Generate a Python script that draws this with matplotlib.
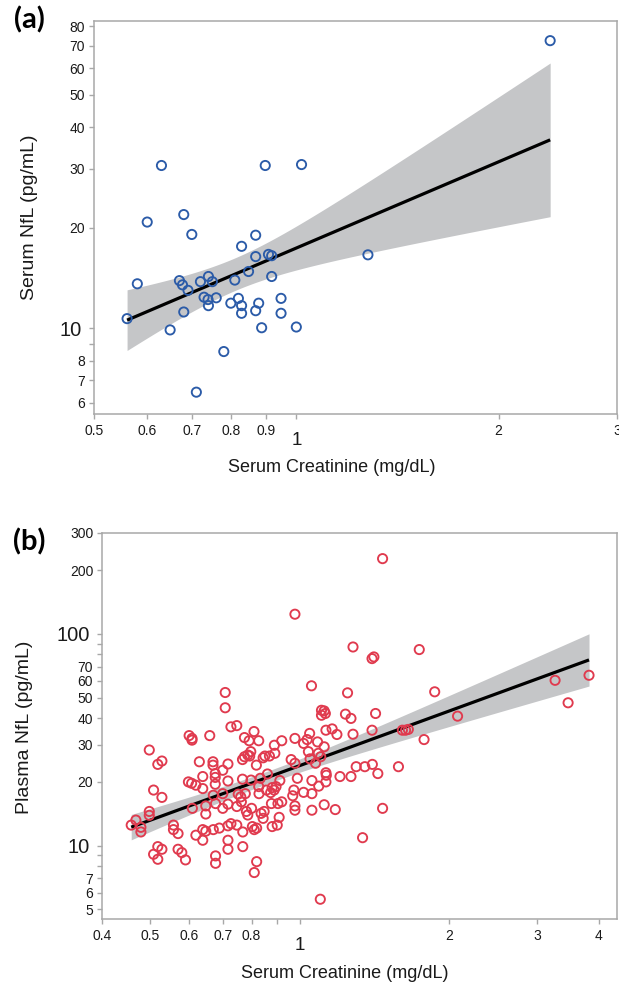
"""
Serum / plasma NfL versus serum creatinine, two stacked log-log panels
with an OLS fit (in log10 space) and its 95% confidence band.
"""

import matplotlib
matplotlib.use("Agg")
import matplotlib.pyplot as plt
from matplotlib.ticker import FixedLocator, FuncFormatter
import numpy as np

plt.rcParams["font.family"] = ["Liberation Sans", "DejaVu Sans"]

# ------------------------------------------------------------------
# Data
# ------------------------------------------------------------------

# (a) serum NfL cohort
a_creat = [
    0.560, 0.580, 0.600, 0.630, 0.649, 0.670, 0.677, 0.680, 0.680, 0.690,
    0.699, 0.710, 0.720, 0.729, 0.739, 0.740, 0.740, 0.750, 0.760, 0.780,
    0.799, 0.810, 0.820, 0.829, 0.829, 0.829, 0.849, 0.870, 0.870, 0.870,
    0.879, 0.888, 0.899, 0.909, 0.919, 0.919, 0.949, 0.949, 1.000, 1.018,
    1.278, 2.386,
]
a_nfl = [
    10.7, 13.6, 20.8, 30.7, 9.9, 13.9, 13.5, 21.9, 11.2, 13.0,
    19.1, 6.45, 13.8, 12.4, 12.2, 14.3, 11.7, 13.8, 12.35, 8.53,
    11.9, 13.95, 12.3, 17.6, 11.7, 11.1, 14.8, 19.0, 16.4, 11.3,
    11.9, 10.05, 30.7, 16.65, 16.5, 14.3, 12.3, 11.1, 10.1, 30.9,
    16.6, 72.5,
]

# (b) plasma NfL cohort
b_creat = [
    0.458, 0.468, 0.479, 0.479, 0.498, 0.498, 0.498, 0.508, 0.508, 0.518,
    0.518, 0.518, 0.528, 0.528, 0.528, 0.557, 0.557, 0.569, 0.569, 0.579,
    0.589, 0.597, 0.599, 0.606, 0.607, 0.607, 0.608, 0.618, 0.618, 0.628,
    0.638, 0.638, 0.638, 0.638, 0.647, 0.647, 0.647, 0.659, 0.669, 0.669,
    0.670, 0.670, 0.676, 0.676, 0.676, 0.677, 0.677, 0.677, 0.689, 0.700,
    0.700, 0.700, 0.708, 0.708, 0.717, 0.717, 0.717, 0.717, 0.717, 0.717,
    0.727, 0.727, 0.747, 0.747, 0.747, 0.752, 0.761, 0.763, 0.767, 0.767,
    0.768, 0.768, 0.774, 0.774, 0.777, 0.781, 0.786, 0.786, 0.791, 0.793,
    0.797, 0.798, 0.800, 0.803, 0.809, 0.810, 0.818, 0.819, 0.819, 0.810,
    0.827, 0.827, 0.828, 0.833, 0.836, 0.844, 0.844, 0.848, 0.851, 0.857,
    0.861, 0.869, 0.874, 0.877, 0.880, 0.880, 0.888, 0.889, 0.891, 0.896,
    0.901, 0.904, 0.909, 0.912, 0.920, 0.920, 0.961, 0.968, 0.973, 0.978,
    0.978, 0.978, 0.978, 0.978, 0.989, 1.018, 1.018, 1.035, 1.041, 1.047,
    1.049, 1.056, 1.058, 1.058, 1.058, 1.076, 1.086, 1.090, 1.092, 1.100,
    1.102, 1.106, 1.106, 1.120, 1.120, 1.120, 1.126, 1.129, 1.129, 1.129,
    1.131, 1.162, 1.188, 1.179, 1.205, 1.236, 1.248, 1.268, 1.268, 1.280,
    1.280, 1.299, 1.338, 1.352, 1.398, 1.398, 1.410, 1.400, 1.421, 1.436,
    1.468, 1.468, 1.580, 1.609, 1.633, 1.654, 1.740, 1.779, 1.869, 2.078,
    3.265, 3.468, 3.821,
]
b_nfl = [
    12.5, 13.2, 12.2, 11.6, 28.3, 14.5, 13.9, 18.3, 9.10, 24.2,
    9.89, 8.62, 25.1, 16.9, 9.61, 12.5, 11.9, 11.4, 9.61, 9.27,
    8.56, 20.0, 33.1, 19.7, 32.1, 31.5, 15.0, 19.3, 11.2, 24.9,
    21.2, 18.6, 11.9, 10.6, 15.4, 14.1, 11.7, 33.1, 24.9, 24.0,
    17.3, 11.9, 21.9, 21.0, 19.5, 15.8, 8.94, 8.25, 12.1, 22.7,
    17.6, 15.0, 52.9, 44.8, 24.3, 20.2, 15.7, 12.4, 10.6, 9.61,
    36.4, 12.7, 36.9, 12.5, 15.3, 17.5, 17.0, 16.1, 25.5, 20.6,
    11.6, 9.89, 32.4, 26.3, 17.6, 14.5, 26.8, 13.95, 31.3, 26.5,
    27.8, 20.4, 15.0, 12.3, 34.6, 11.9, 24.0, 12.1, 8.40, 7.46,
    31.3, 19.0, 17.6, 20.8, 14.2, 26.0, 13.45, 14.5, 26.5, 18.3,
    21.8, 26.5, 17.8, 15.8, 12.3, 18.8, 18.3, 29.8, 27.3, 19.0,
    12.5, 15.8, 13.6, 20.3, 31.3, 16.1, 25.5, 17.2, 18.3, 24.5,
    124.0, 32.1, 15.4, 14.7, 20.8, 30.4, 17.85, 31.7, 27.8, 33.9,
    25.7, 56.9, 20.3, 17.6, 14.7, 24.5, 30.9, 27.3, 19.1, 5.58,
    26.3, 43.6, 41.3, 29.3, 43.3, 15.6, 42.1, 35.1, 22.1, 20.0,
    21.5, 35.6, 33.5, 14.8, 21.2, 41.8, 52.7, 39.9, 21.2, 86.8,
    33.6, 23.6, 10.9, 23.6, 35.1, 76.5, 77.9, 24.2, 42.1, 21.9,
    227.0, 15.0, 23.6, 35.1, 35.1, 35.4, 84.4, 31.7, 53.3, 40.9,
    60.4, 47.3, 63.8,
]

# tick values and labels
a_xticks_minor = [0.5, 0.6, 0.7, 0.8, 0.9, 2, 3]
a_xlabels_minor = ["0.5", "0.6", "0.7", "0.8", "0.9", "2", "3"]
a_yticks_minor = [6, 7, 8, 9, 20, 30, 40, 50, 60, 70, 80]
a_ylabels_minor = ["6", "7", "8", "", "20", "30", "40", "50", "60", "70", "80"]

b_xticks_minor = [0.4, 0.5, 0.6, 0.7, 0.8, 0.9, 2, 3, 4]
b_xlabels_minor = ["0.4", "0.5", "0.6", "0.7", "0.8", "", "2", "3", "4"]
b_yticks_minor = [5, 6, 7, 8, 9, 20, 30, 40, 50, 60, 70, 80, 90, 200, 300]
b_ylabels_minor = ["5", "6", "7", "", "", "20", "30", "40", "50", "60", "70",
                   "", "", "200", "300"]

BLUE = "#2B5BA8"
RED = "#E03A4E"
BAND = "#C5C6C8"
SPINE = "#A8A8A8"
W, H = 619, 986


def fit_band(x, y, n_grid=120):
    """OLS fit of log10(y) on log10(x) with a 95% CI for the mean."""
    lx, ly = np.log10(x), np.log10(y)
    n = len(lx)
    slope, icpt = np.polyfit(lx, ly, 1)
    resid = ly - (icpt + slope * lx)
    s = np.sqrt(np.sum(resid ** 2) / (n - 2))
    sxx = np.sum((lx - lx.mean()) ** 2)
    t = 1.96 + 2.4 / (n - 2)  # close enough to the t quantile
    gx = np.linspace(lx.min(), lx.max(), n_grid)
    pred = icpt + slope * gx
    half = t * s * np.sqrt(1.0 / n + (gx - lx.mean()) ** 2 / sxx)
    return 10 ** gx, 10 ** pred, 10 ** (pred - half), 10 ** (pred + half)


def label_fmt(ticks, labels):
    lookup = {round(t, 4): l for t, l in zip(ticks, labels)}
    return FuncFormatter(lambda v, pos: lookup.get(round(v, 4), ""))


def draw_panel(ax, x, y, color, xlim, ylim, x_minor, x_minor_lab,
               y_major, y_minor, y_minor_lab):
    x = np.asarray(x, float)
    y = np.asarray(y, float)
    gx, pred, lo, hi = fit_band(x, y)

    ax.fill_between(gx, lo, hi, color=BAND, lw=0, zorder=1)
    ax.plot(gx, pred, color="black", lw=2.3, zorder=2, solid_capstyle="butt")
    ax.scatter(x, y, s=44, facecolors="none", edgecolors=color,
               linewidths=1.35, zorder=3)

    ax.set_xscale("log")
    ax.set_yscale("log")
    ax.set_xlim(*xlim)
    ax.set_ylim(*ylim)

    ax.xaxis.set_major_locator(FixedLocator([1]))
    ax.xaxis.set_major_formatter(FuncFormatter(lambda v, pos: "1"))
    ax.xaxis.set_minor_locator(FixedLocator(x_minor))
    ax.xaxis.set_minor_formatter(label_fmt(x_minor, x_minor_lab))

    ax.yaxis.set_major_locator(FixedLocator(y_major))
    ax.yaxis.set_major_formatter(FuncFormatter(lambda v, pos: f"{v:g}"))
    ax.yaxis.set_minor_locator(FixedLocator(y_minor))
    ax.yaxis.set_minor_formatter(label_fmt(y_minor, y_minor_lab))

    for spine in ax.spines.values():
        spine.set_color(SPINE)
        spine.set_linewidth(1.1)
    ax.tick_params(which="both", direction="out", length=3.8, width=1.0,
                   color=SPINE, labelcolor="#1a1a1a")
    ax.tick_params(axis="x", which="minor", labelsize=10, pad=3.5)
    ax.tick_params(axis="x", which="major", labelsize=13.5, pad=9.5)
    ax.tick_params(axis="y", which="minor", labelsize=10, pad=2.5)
    ax.tick_params(axis="y", which="major", labelsize=14.5, pad=5)


fig = plt.figure(figsize=(W / 100, H / 100), dpi=100)

# axes boxes in pixels: left, top, right, bottom
ax_a = fig.add_axes([94 / W, 1 - 414 / H, (617 - 94) / W, (414 - 21) / H])
ax_b = fig.add_axes([102 / W, 1 - 919 / H, (617 - 102) / W, (919 - 533) / H])

draw_panel(ax_a, a_creat, a_nfl, BLUE, (0.5, 3.0), (5.55, 83),
           a_xticks_minor, a_xlabels_minor, [10],
           a_yticks_minor, a_ylabels_minor)
draw_panel(ax_b, b_creat, b_nfl, RED, (0.4, 4.35), (4.5, 300),
           b_xticks_minor, b_xlabels_minor, [10, 100],
           b_yticks_minor, b_ylabels_minor)

# axis titles and panel letters
fig.text(332 / W, 1 - 467 / H, "Serum Creatinine (mg/dL)", fontsize=13,
         ha="center", va="center", color="#1a1a1a")
fig.text(30 / W, 1 - 217 / H, "Serum NfL (pg/mL)", fontsize=14,
         rotation=90, ha="center", va="center", color="#1a1a1a")
fig.text(345 / W, 1 - 973 / H, "Serum Creatinine (mg/dL)", fontsize=13,
         ha="center", va="center", color="#1a1a1a")
fig.text(25 / W, 1 - 727 / H, "Plasma NfL (pg/mL)", fontsize=14,
         rotation=90, ha="center", va="center", color="#1a1a1a")

for txt, ypix in (("(a)", 20), ("(b)", 542)):
    fig.text(29 / W, 1 - ypix / H, txt, fontsize=21, fontweight="bold",
             family=["Lato", "DejaVu Sans"], ha="center", va="center")

fig.savefig("out.png", dpi=100)
